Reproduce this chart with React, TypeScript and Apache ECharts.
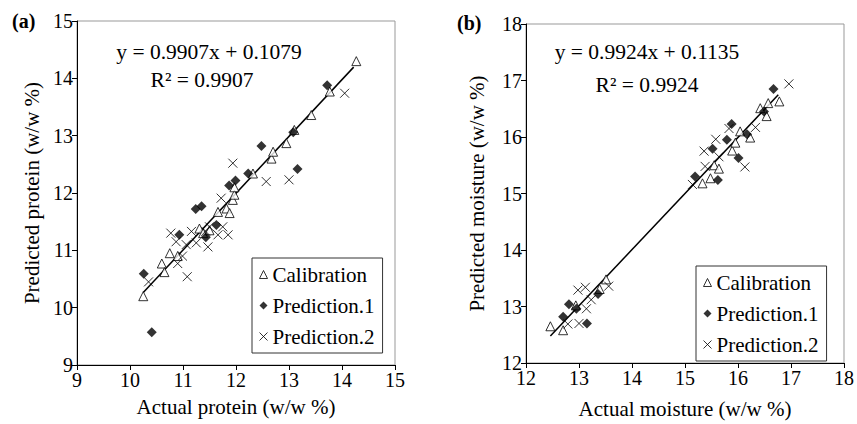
import React, { useEffect, useRef } from "react";
import * as echarts from "echarts";

const proteinCalibration: number[][] = [
  [10.25, 10.2], [10.6, 10.77], [10.65, 10.62], [10.75, 10.95], [10.9, 10.9],
  [11.31, 11.38], [11.38, 11.3], [11.5, 11.35], [11.66, 11.67], [11.82, 11.73],
  [11.88, 11.65], [11.94, 11.88], [11.97, 11.97], [11.97, 12.1], [12.32, 12.34],
  [12.67, 12.6], [12.7, 12.72], [12.95, 12.87], [13.1, 13.1], [13.42, 13.36],
  [13.77, 13.77], [14.27, 14.3],
];
const proteinPrediction1: number[][] = [
  [10.26, 10.59], [10.41, 9.57], [10.93, 11.27], [11.24, 11.72], [11.35, 11.77],
  [11.43, 11.23], [11.63, 11.44], [11.87, 12.13], [11.99, 12.22], [12.23, 12.34],
  [12.48, 12.82], [13.08, 13.06], [13.16, 12.42], [13.72, 13.88],
];
const proteinPrediction2: number[][] = [
  [10.35, 10.45], [10.77, 11.3], [10.87, 11.15], [10.9, 10.77], [10.99, 10.9],
  [11.06, 11.1], [11.08, 10.54], [11.16, 11.33], [11.25, 11.13], [11.47, 11.06],
  [11.5, 11.41], [11.43, 11.33], [11.66, 11.27], [11.72, 11.91], [11.75, 11.41],
  [11.85, 11.27], [11.94, 12.52], [12.57, 12.2], [13.0, 12.23], [14.05, 13.74],
];
const moistureCalibration: number[][] = [
  [12.46, 12.65], [12.7, 12.58], [12.94, 13.02], [13.39, 13.31], [13.51, 13.48],
  [15.33, 15.18], [15.48, 15.27], [15.55, 15.5], [15.64, 15.44], [15.89, 15.76],
  [15.95, 15.9], [16.04, 16.1], [16.23, 15.99], [16.42, 16.51], [16.54, 16.37],
  [16.57, 16.6], [16.78, 16.63],
];
const moisturePrediction1: number[][] = [
  [12.7, 12.82], [12.81, 13.04], [12.95, 12.96], [13.15, 12.7], [13.36, 13.22],
  [15.19, 15.3], [15.52, 15.79], [15.62, 15.24], [15.79, 15.95], [15.88, 16.23],
  [16.01, 15.63], [16.17, 16.05], [16.49, 16.45], [16.67, 16.85],
];
const moisturePrediction2: number[][] = [
  [12.79, 12.69], [12.98, 13.29], [13.0, 12.7], [13.12, 13.34], [13.14, 12.96],
  [13.23, 13.12], [13.56, 13.36], [15.14, 15.16], [15.36, 15.75], [15.38, 15.48],
  [15.58, 15.96], [15.64, 15.65], [15.83, 16.15], [16.13, 15.47], [16.33, 16.17],
  [16.96, 16.94],
];

// regression fits: [slope, intercept], x-range of drawn line
const proteinFit = [0.9907, 0.1079];
const proteinFitRange = [10.25, 14.22];
const moistureFit = [0.9924, 0.1135];
const moistureFitRange = [12.46, 16.76];

const proteinTicks = [9, 15];
const moistureTicks = [12, 18];

const FONT = "Liberation Serif";
const CROSS = "path://M0,0L10,10M10,0L0,10";

function fitLine(fit: number[], range: number[]) {
  return range.map((x) => [x, fit[0] * x + fit[1]]);
}

export default function App() {
  const ref = useRef<HTMLDivElement>(null);
  useEffect(() => {
    if (!ref.current) return;
    const chart = echarts.init(ref.current, undefined, { renderer: "svg" });

    const axisCommon = {
      type: "value" as const,
      interval: 1,
      axisLine: { show: true, lineStyle: { color: "#000", width: 1 } },
      axisTick: { show: true, length: 5, lineStyle: { color: "#000" } },
      splitLine: { show: false },
      axisLabel: { color: "#000", fontSize: 20, fontFamily: FONT, margin: 5 },
      nameLocation: "middle" as const,
      nameTextStyle: { color: "#000", fontSize: 21, fontFamily: FONT },
    };

    const calStyle = { color: "#fff", borderColor: "#000", borderWidth: 1 };
    const p1Style = { color: "#000" };
    const p2Style = { color: "transparent", borderColor: "#000", borderWidth: 1 };

    const scatter = (name: string, data: number[][], idx: number) => {
      const base: any = {
        name,
        type: "scatter",
        xAxisIndex: idx,
        yAxisIndex: idx,
        data,
        z: 3,
      };
      if (name === "Calibration") {
        base.symbol = "triangle";
        base.symbolSize = 9;
        base.itemStyle = calStyle;
      } else if (name === "Prediction.1") {
        base.symbol = "diamond";
        base.symbolSize = 10;
        base.itemStyle = p1Style;
      } else {
        base.symbol = CROSS;
        base.symbolSize = 9;
        base.itemStyle = p2Style;
      }
      return base;
    };

    const legendCommon = {
      orient: "vertical" as const,
      itemWidth: 8,
      itemHeight: 8,
      itemGap: 10,
      padding: [6, 8, 6, 7],
      borderColor: "#333",
      borderWidth: 1,
      backgroundColor: "#fff",
      textStyle: { color: "#000", fontSize: 21, fontFamily: FONT },
      data: [
        { name: "Calibration", icon: "triangle", itemStyle: calStyle },
        { name: "Prediction.1", icon: "diamond", itemStyle: p1Style },
        { name: "Prediction.2", icon: CROSS, itemStyle: p2Style },
      ],
    };

    chart.setOption({
      animation: false,
      textStyle: { fontFamily: FONT },
      grid: [
        { left: 77, right: 462, top: 21, bottom: 59, show: true, borderColor: "#999", borderWidth: 1 },
        { left: 526, right: 11, top: 24, bottom: 53, show: true, borderColor: "#999", borderWidth: 1 },
      ],
      xAxis: [
        { ...axisCommon, gridIndex: 0, min: proteinTicks[0], max: proteinTicks[1], name: "Actual protein (w/w %)", nameGap: 31 },
        { ...axisCommon, gridIndex: 1, min: moistureTicks[0], max: moistureTicks[1], name: "Actual moisture (w/w %)", nameGap: 35 },
      ],
      yAxis: [
        { ...axisCommon, gridIndex: 0, min: proteinTicks[0], max: proteinTicks[1], name: "Predicted protein (w/w %)", nameGap: 35, axisLabel: { ...axisCommon.axisLabel, margin: 4 } },
        { ...axisCommon, gridIndex: 1, min: moistureTicks[0], max: moistureTicks[1], name: "Predicted moisture (w/w %)", nameGap: 39, axisLabel: { ...axisCommon.axisLabel, margin: 4 } },
      ],
      legend: [
        { ...legendCommon, left: 252, top: 258 },
        { ...legendCommon, left: 696, top: 266 },
      ],
      series: [
        {
          type: "line",
          xAxisIndex: 0,
          yAxisIndex: 0,
          data: fitLine(proteinFit, proteinFitRange),
          symbol: "none",
          lineStyle: { color: "#000", width: 1.5 },
          z: 2,
        },
        {
          type: "line",
          xAxisIndex: 1,
          yAxisIndex: 1,
          data: fitLine(moistureFit, moistureFitRange),
          symbol: "none",
          lineStyle: { color: "#000", width: 1.5 },
          z: 2,
        },
        scatter("Calibration", proteinCalibration, 0),
        scatter("Prediction.1", proteinPrediction1, 0),
        scatter("Prediction.2", proteinPrediction2, 0),
        scatter("Calibration", moistureCalibration, 1),
        scatter("Prediction.1", moisturePrediction1, 1),
        scatter("Prediction.2", moisturePrediction2, 1),
      ],
      graphic: [
        { type: "text", left: 12, top: 11, style: { text: "(a)", font: `bold 20px ${FONT}`, fill: "#000" } },
        { type: "text", left: 457, top: 13, style: { text: "(b)", font: `bold 20px ${FONT}`, fill: "#000" } },
        { type: "text", x: 209, y: 52, style: { text: "y = 0.9907x + 0.1079", font: `21.5px ${FONT}`, fill: "#000", align: "center", verticalAlign: "middle" } },
        { type: "text", x: 202, y: 80, style: { text: "R² = 0.9907", font: `21.5px ${FONT}`, fill: "#000", align: "center", verticalAlign: "middle" } },
        { type: "text", x: 647, y: 52, style: { text: "y = 0.9924x + 0.1135", font: `21.5px ${FONT}`, fill: "#000", align: "center", verticalAlign: "middle" } },
        { type: "text", x: 647, y: 85, style: { text: "R² = 0.9924", font: `21.5px ${FONT}`, fill: "#000", align: "center", verticalAlign: "middle" } },
      ],
    });
    return () => chart.dispose();
  }, []);
  return (
    <div
      ref={ref}
      style={{ position: "fixed", left: 0, top: 0, width: 857, height: 424, background: "#fff" }}
    />
  );
}
